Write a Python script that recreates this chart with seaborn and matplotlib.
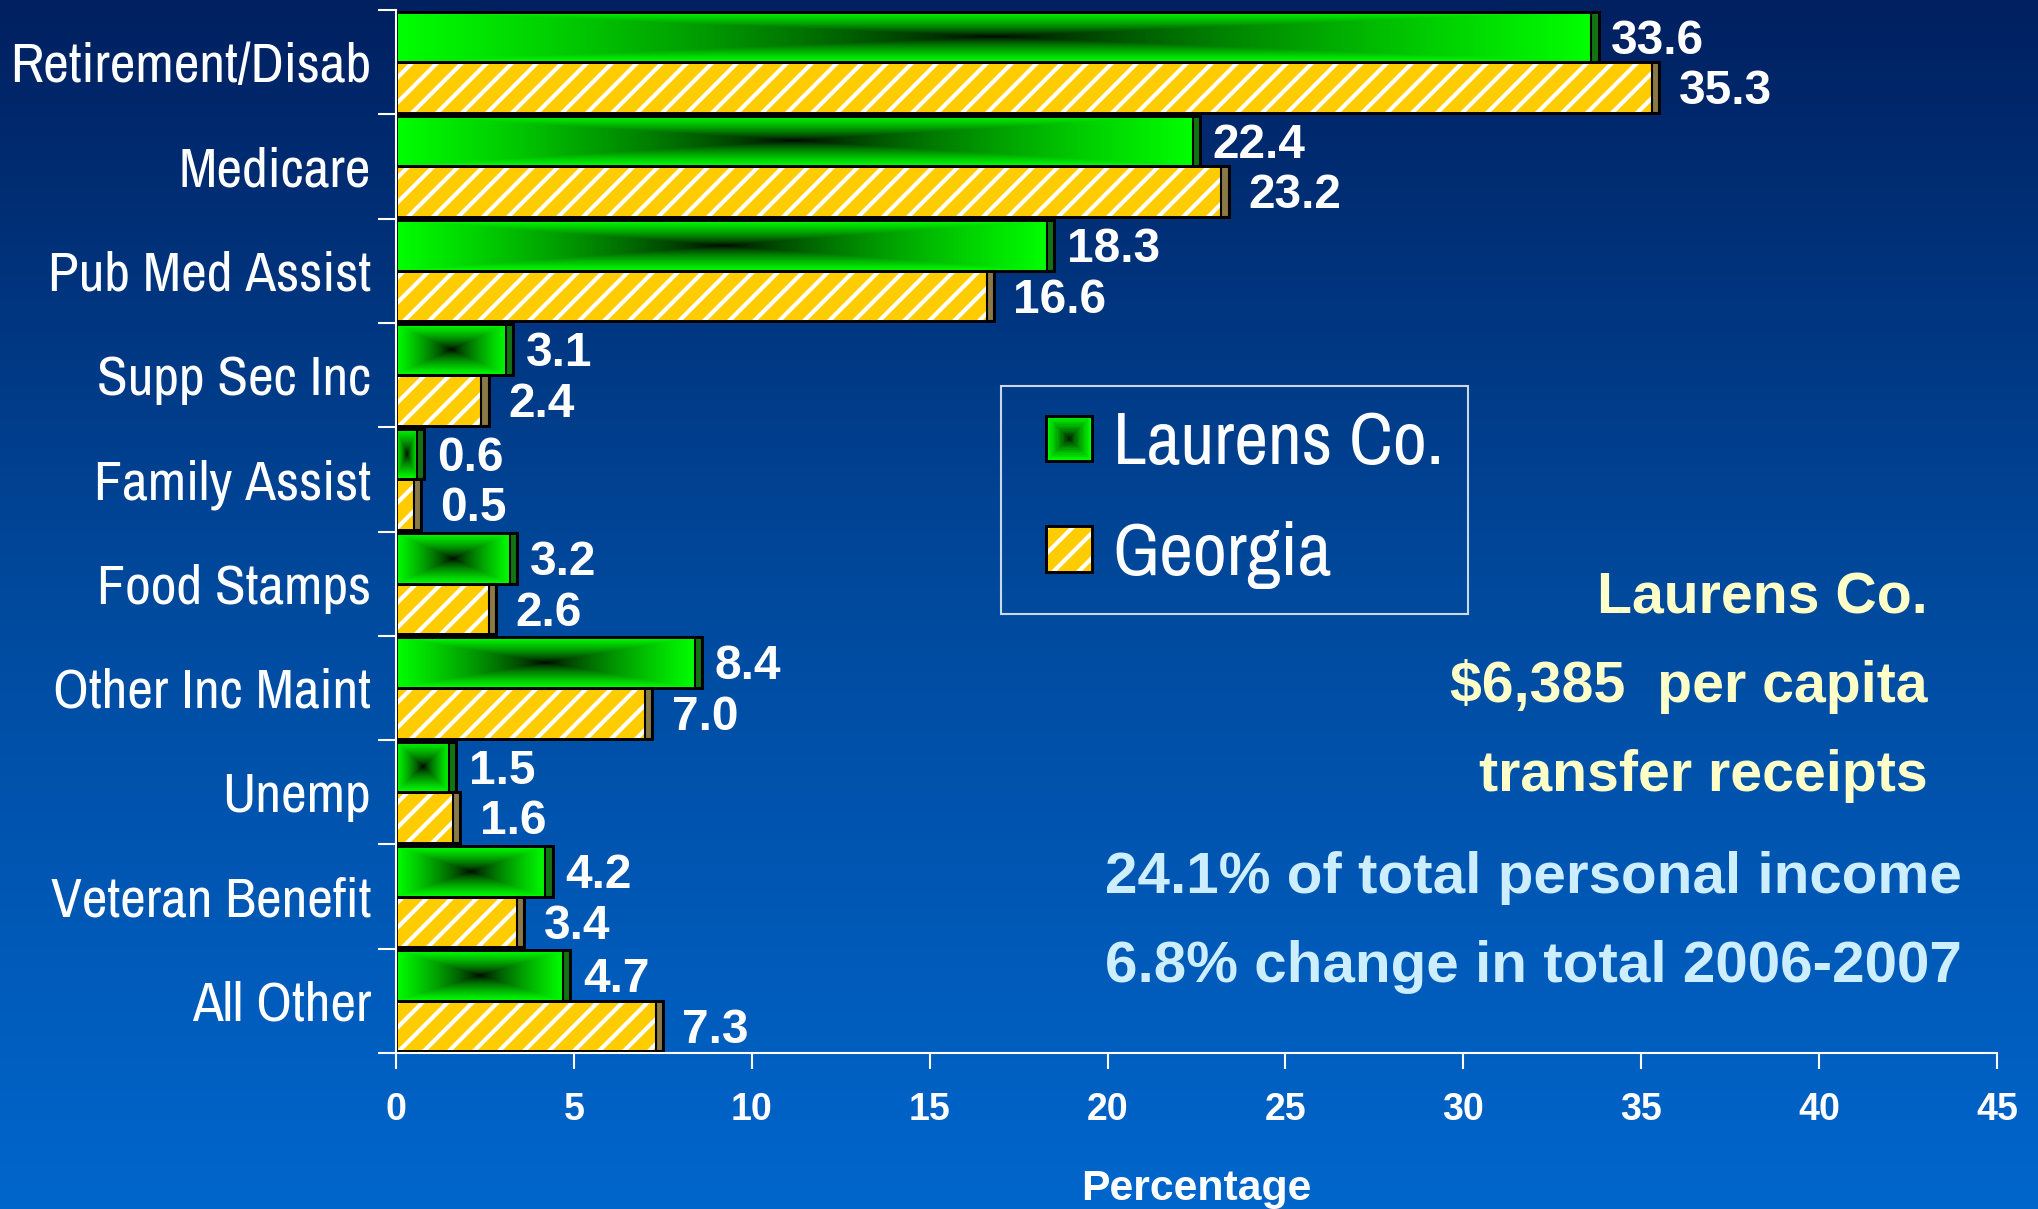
import numpy as np
import pandas as pd
import matplotlib
matplotlib.use("Agg")
import matplotlib.pyplot as plt
import seaborn as sns
from matplotlib.patches import Rectangle
from matplotlib.legend_handler import HandlerBase
from matplotlib.colors import LinearSegmentedColormap
from matplotlib.font_manager import FontProperties
from matplotlib import font_manager as fm

# ---------------- data ----------------
categories = ["Retirement/Disab", "Medicare", "Pub Med Assist", "Supp Sec Inc",
              "Family Assist", "Food Stamps", "Other Inc Maint", "Unemp",
              "Veteran Benefit", "All Other"]
laurens = [33.6, 22.4, 18.3, 3.1, 0.6, 3.2, 8.4, 1.5, 4.2, 4.7]
georgia = [35.3, 23.2, 16.6, 2.4, 0.5, 2.6, 7.0, 1.6, 3.4, 7.3]
series = ["Laurens Co.", "Georgia"]
xticks = [0, 5, 10, 15, 20, 25, 30, 35, 40, 45]
x_label = "Percentage"
note_yellow = ["Laurens Co.", "$6,385  per capita", "transfer receipts"]
note_blue = ["24.1% of total personal income", "6.8% change in total 2006-2007"]

# ---------------- style ----------------
sns.set_theme(style="ticks")
plt.rcParams["font.family"] = ["Liberation Sans", "DejaVu Sans"]
plt.rcParams["hatch.linewidth"] = 2.0
BOLD = ["Liberation Sans", "DejaVu Sans"]

# find a condensed / narrow face if one is installed
ttf = fm.fontManager.ttflist
narrow_name, narrow_stretch = None, "normal"
for key in ["Narrow", "Condensed"]:
    for f in ttf:
        if key in f.name and "Extra" not in f.name and "Semi" not in f.name:
            narrow_name = f.name
            break
    if narrow_name:
        break
if narrow_name is None:
    for f in ttf:
        if f.stretch in ("condensed", 625, 600) or str(f.stretch).startswith("condensed"):
            narrow_name, narrow_stretch = f.name, "condensed"
            break
HAVE_NARROW = narrow_name is not None
NARROW = [narrow_name, "Liberation Sans", "DejaVu Sans"] if HAVE_NARROW else ["Liberation Sans", "DejaVu Sans"]
NSCALE = 1.0 if HAVE_NARROW else 0.86


def nprop(size, weight="normal"):
    return FontProperties(family=NARROW, size=size * NSCALE, weight=weight,
                          stretch=narrow_stretch)


GREEN = "#00FF00"
YELLOW = "#FFCC00"
GREEN_SIDE = "#127512"
YELLOW_SIDE = "#8A7A48"
gcmap = LinearSegmentedColormap.from_list("g", ["#000000", GREEN])
bgcmap = LinearSegmentedColormap.from_list("bg", ["#0066CC", "#004A9E", "#002060"])

DPI = 150
fig = plt.figure(figsize=(2038 / DPI, 1209 / DPI), dpi=DPI)
fig.patch.set_facecolor("#002060")

# background gradient
bg = fig.add_axes([0, 0, 1, 1], zorder=0)
bg.imshow(np.linspace(0, 1, 256).reshape(-1, 1), cmap=bgcmap, aspect="auto",
          extent=[0, 1, 0, 1], origin="lower")
bg.set_axis_off()

ax = fig.add_axes([396 / 2038, 1 - 1053 / 1209, (1997 - 396) / 2038, (1053 - 10) / 1209], zorder=1)
ax.set_facecolor("none")

df = pd.DataFrame({
    "category": categories * 2,
    "series": [series[0]] * len(categories) + [series[1]] * len(categories),
    "value": laurens + georgia,
})
sns.barplot(data=df, x="value", y="category", hue="series", orient="h",
            order=categories, hue_order=series,
            palette={series[0]: GREEN, series[1]: YELLOW},
            width=0.97, saturation=1, errorbar=None, legend=False,
            linewidth=0, ax=ax)


def rect_gradient(nx=400, ny=80, gamma=0.7):
    xs = np.linspace(-1, 1, nx)
    ys = np.linspace(-1, 1, ny)
    X, Y = np.meshgrid(xs, ys)
    return np.maximum(np.abs(X), np.abs(Y)) ** gamma


GRAD = rect_gradient()
SIDE = 0.2

green_bars, yellow_bars = ax.containers[0], ax.containers[1]

for p in green_bars:
    p.set_zorder(1.4)
    x0, y0, w, h = p.get_x(), p.get_y(), p.get_width(), p.get_height()
    im = ax.imshow(GRAD, cmap=gcmap, vmin=0, vmax=1, extent=[x0, x0 + w, y0 + h, y0],
                   aspect="auto", interpolation="bilinear", zorder=1.5)
    im.set_clip_path(p)

for p in yellow_bars:
    p.set_zorder(1.4)
    p.set_hatch("//")
    p.set_edgecolor("white")
    p.set_linewidth(0)

for cont, side_col in [(green_bars, GREEN_SIDE), (yellow_bars, YELLOW_SIDE)]:
    for p in cont:
        x0, y0, w, h = p.get_x(), p.get_y(), p.get_width(), p.get_height()
        ax.add_patch(Rectangle((x0 + w, y0), SIDE, h, facecolor=side_col,
                               edgecolor="black", lw=1.0, zorder=1.6))
        ax.add_patch(Rectangle((x0, y0), w + SIDE, h, fill=False,
                               edgecolor="black", lw=1.4, zorder=1.7))

for cont, vals, gap in [(green_bars, laurens, 0.35), (yellow_bars, georgia, 0.55)]:
    for p, v in zip(cont, vals):
        ax.text(p.get_x() + p.get_width() + SIDE + gap, p.get_y() + p.get_height() / 2 + 0.04,
                f"{v:.1f}", ha="left", va="center", color="white",
                fontfamily=BOLD, fontweight="bold", fontsize=23, zorder=3)

ax.set_xlim(0, 45)
ax.set_ylim(len(categories) - 0.5, -0.5)

# ticks / spines
ax.set_xticks(xticks)
ax.set_xticklabels([str(t) for t in xticks],
                   fontproperties=FontProperties(family=BOLD, weight="bold", size=18),
                   color="white")
ax.set_yticks(range(len(categories)))
ax.set_yticklabels(categories, fontproperties=nprop(27), color="white")
ax.set_yticks(np.arange(-0.5, len(categories), 1.0), minor=True)
ax.tick_params(axis="x", which="major", direction="out", length=7.5, width=1.0,
               color="white", pad=11, bottom=True)
ax.tick_params(axis="y", which="major", length=0, pad=12, left=True)
ax.tick_params(axis="y", which="minor", direction="out", length=8.7, width=1.0,
               color="white", left=True)
ax.tick_params(axis="x", which="minor", bottom=False)
for s in ["top", "right"]:
    ax.spines[s].set_visible(False)
for s in ["left", "bottom"]:
    ax.spines[s].set_color("white")
    ax.spines[s].set_linewidth(1.0)
ax.set_ylabel("")
ax.set_xlabel(x_label, fontfamily=BOLD, fontweight="bold", fontsize=20.5,
              color="white", labelpad=20)


# legend with custom square handles
class SquareHandler(HandlerBase):
    def __init__(self, kind):
        super().__init__()
        self.kind = kind

    def create_artists(self, legend, orig_handle, xdescent, ydescent, width, height,
                       fontsize, trans):
        s = height
        x0 = -xdescent + (width - s) / 2
        y0 = -ydescent
        arts = []
        if self.kind == "green":
            n = 18
            for i in range(n):
                frac = 1 - i / n
                sz = s * frac
                arts.append(Rectangle((x0 + (s - sz) / 2, y0 + (s - sz) / 2), sz, sz,
                                      facecolor=gcmap(frac ** 0.7), edgecolor="none",
                                      transform=trans))
        else:
            arts.append(Rectangle((x0, y0), s, s, facecolor=YELLOW, edgecolor="white",
                                  hatch="//", lw=0, transform=trans))
        arts.append(Rectangle((x0, y0), s, s, fill=False, edgecolor="black", lw=1.4,
                              transform=trans))
        return arts


h_green = Rectangle((0, 0), 1, 1, facecolor=GREEN)
h_yellow = Rectangle((0, 0), 1, 1, facecolor=YELLOW)
LEG_PT = 35.5
leg_size = LEG_PT * NSCALE
k = LEG_PT / leg_size
leg = ax.legend([h_green, h_yellow], series, loc="upper left",
                bbox_to_anchor=(1001 / 2038, 1 - 386 / 1209), bbox_transform=fig.transFigure,
                borderaxespad=0, frameon=True, fancybox=False, edgecolor="white",
                facecolor="none", prop=nprop(LEG_PT),
                labelcolor="white", handlelength=1.18 * k,
                handleheight=0.568 * k,
                handletextpad=0.0, labelspacing=0.592 * k,
                borderpad=0.33 * k,
                handler_map={h_green: SquareHandler("green"), h_yellow: SquareHandler("yellow")})
leg.get_frame().set_linewidth(1.0)

# annotations
for txt, yy in zip(note_yellow, [599, 687, 776]):
    fig.text(1928 / 2038, 1 - yy / 1209, txt, ha="right", va="center",
             color="#FFFFC8", fontfamily=BOLD, fontweight="bold", fontsize=27.5)
for txt, yy in zip(note_blue, [878, 967]):
    fig.text(1105 / 2038, 1 - yy / 1209, txt, ha="left", va="center",
             color="#CCEEFF", fontfamily=BOLD, fontweight="bold", fontsize=28)

fig.savefig("out.png", dpi=DPI)
